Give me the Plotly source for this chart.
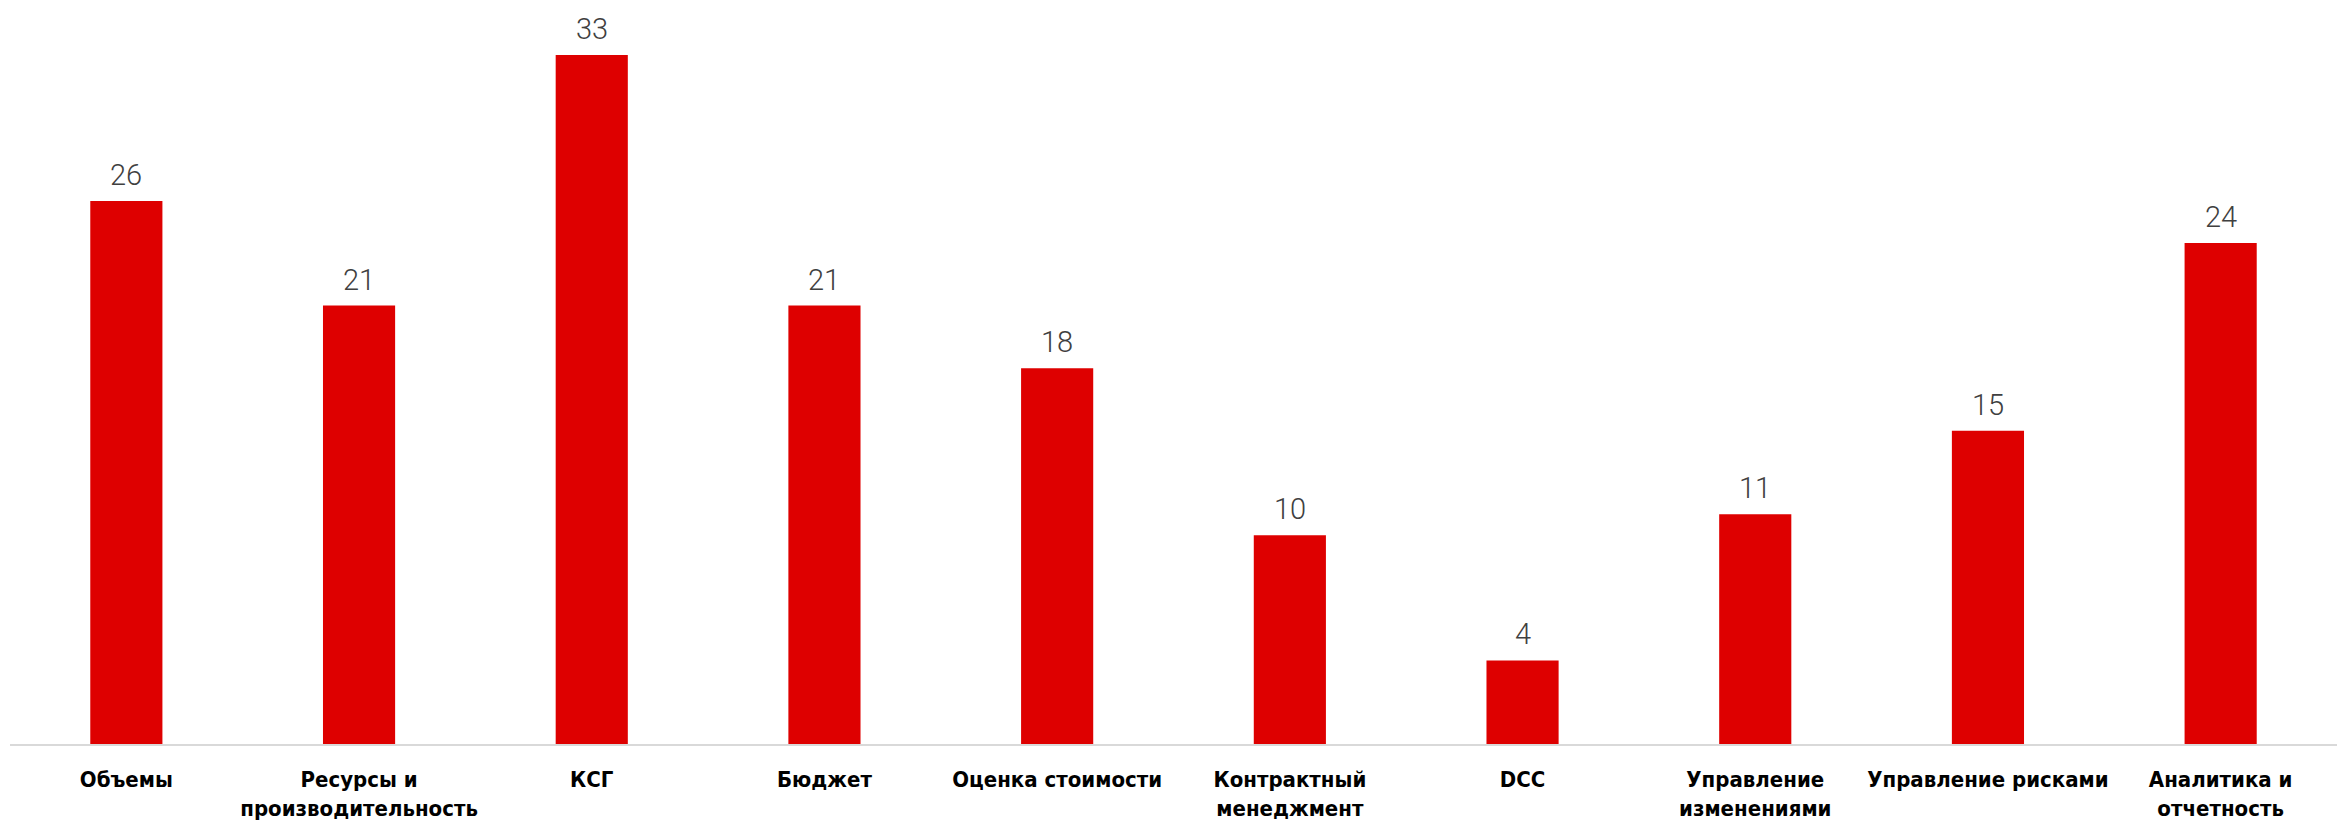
import plotly.graph_objects as go

categories = [
    "Объемы",
    "Ресурсы и<br>производительность",
    "КСГ",
    "Бюджет",
    "Оценка стоимости",
    "Контрактный<br>менеджмент",
    "DCC",
    "Управление<br>изменениями",
    "Управление рисками",
    "Аналитика и<br>отчетность",
]
values = [26, 21, 33, 21, 18, 10, 4, 11, 15, 24]

BAR_COLOR = "#DE0000"

fig = go.Figure()
fig.add_trace(go.Bar(
    x=categories,
    y=values,
    marker=dict(color=BAR_COLOR, line=dict(width=0)),
    width=0.31,
    hoverinfo="skip",
))

for c, v in zip(categories, values):
    fig.add_annotation(
        x=c, y=v, text=str(v), showarrow=False,
        yanchor="bottom", yshift=7,
        font=dict(family="Roboto", size=29, color="#404040", weight=300),
    )

fig.update_layout(
    width=2351, height=834,
    margin=dict(l=2, r=22, t=10, b=98),
    paper_bgcolor="white",
    plot_bgcolor="white",
    showlegend=False,
    bargap=0.69,
    xaxis=dict(
        showline=True, linecolor="#D9D9D9", linewidth=2,
        showgrid=False, ticks="outside", ticklen=15, tickcolor="rgba(0,0,0,0)",
        tickfont=dict(family="DejaVu Sans Condensed", size=22, color="#000000", weight="bold"),
        tickangle=0,
    ),
    yaxis=dict(
        range=[0, 34.77], visible=False, showgrid=False, zeroline=False,
    ),
)

fig.write_html("out.html")
